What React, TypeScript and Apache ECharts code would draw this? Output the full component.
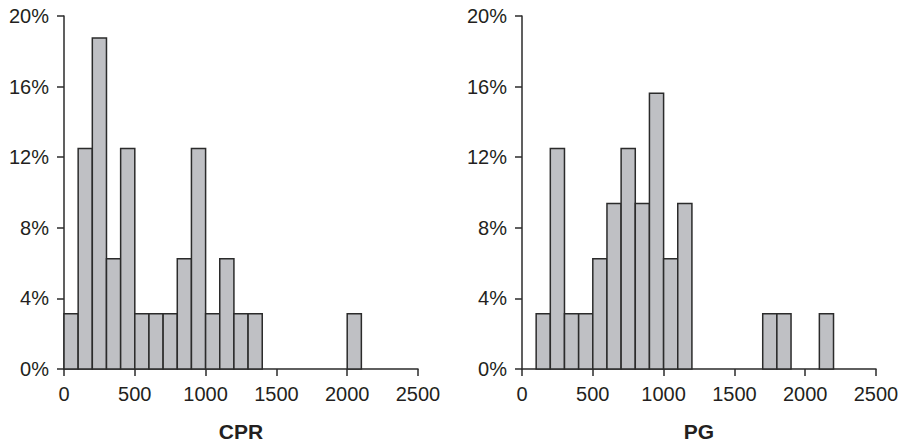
import React, { useEffect, useRef } from "react";
import * as echarts from "echarts";

const binStarts = [0, 100, 200, 300, 400, 500, 600, 700, 800, 900, 1000, 1100, 1200, 1300, 1400, 1500, 1600, 1700, 1800, 1900, 2000, 2100, 2200, 2300, 2400];
const binWidth = 100;
const cprPercent = [3.125, 12.5, 18.75, 6.25, 12.5, 3.125, 3.125, 3.125, 6.25, 12.5, 3.125, 6.25, 3.125, 3.125, 0, 0, 0, 0, 0, 0, 3.125, 0, 0, 0, 0];
const pgPercent = [0, 3.125, 12.5, 3.125, 3.125, 6.25, 9.375, 12.5, 9.375, 15.625, 6.25, 9.375, 0, 0, 0, 0, 0, 3.125, 3.125, 0, 0, 3.125, 0, 0, 0];
const panelNames = ["CPR", "PG"];
const xTicks = { min: 0, max: 2500, interval: 500 };
const yTicks = { min: 0, max: 20, interval: 4 };

const TEXT = "#231f20";
const LINE = "#2b2b2b";
const FONT = "'Liberation Sans', Arial, Helvetica, sans-serif";

export default function App() {
  const ref = useRef<HTMLDivElement>(null);
  useEffect(() => {
    if (!ref.current) return;
    const chart = echarts.init(ref.current, null, { renderer: "svg" });
    const grids = [
      { left: 64, right: 487, top: 16, bottom: 77 },
      { left: 522, right: 29, top: 16, bottom: 77 },
    ];
    const mkX = (i: number) => ({
      type: "value",
      gridIndex: i,
      min: xTicks.min,
      max: xTicks.max,
      interval: xTicks.interval,
      name: panelNames[i],
      nameLocation: "middle",
      nameGap: 52,
      nameTextStyle: { color: TEXT, fontSize: 21, fontWeight: "bold", fontFamily: FONT },
      axisLine: { show: true, lineStyle: { color: LINE, width: 1.5 } },
      axisTick: { show: true, length: 7, lineStyle: { color: LINE, width: 1.5 } },
      axisLabel: { color: TEXT, fontSize: 20, fontFamily: FONT, margin: 15, formatter: (v: number) => String(v) },
      splitLine: { show: false },
    });
    const mkY = (i: number) => ({
      type: "value",
      gridIndex: i,
      min: yTicks.min,
      max: yTicks.max,
      interval: yTicks.interval,
      axisLine: { show: true, lineStyle: { color: LINE, width: 1.5 } },
      axisTick: { show: true, length: 7, lineStyle: { color: LINE, width: 1.5 } },
      axisLabel: { color: TEXT, fontSize: 20, fontFamily: FONT, margin: 15, formatter: (v: number) => v + "%" },
      splitLine: { show: false },
    });
    const mkData = (vals: number[]) =>
      binStarts.map((s, k) => [s, s + binWidth, vals[k]]).filter((d) => d[2] > 0);
    const renderItem = (params: any, api: any) => {
      const p0 = api.coord([api.value(0), api.value(2)]);
      const p1 = api.coord([api.value(1), 0]);
      return {
        type: "rect",
        shape: { x: p0[0], y: p0[1], width: p1[0] - p0[0], height: p1[1] - p0[1] },
        style: { fill: "#bfc0c4", stroke: "#2b2b2b", lineWidth: 1.5 },
      };
    };
    const series = [cprPercent, pgPercent].map((vals, i) => ({
      type: "custom",
      xAxisIndex: i,
      yAxisIndex: i,
      renderItem,
      encode: { x: [0, 1], y: 2 },
      data: mkData(vals),
      z: 1,
    }));
    chart.setOption({
      animation: false,
      backgroundColor: "#ffffff",
      grid: grids,
      xAxis: [mkX(0), mkX(1)],
      yAxis: [mkY(0), mkY(1)],
      series,
    });
    return () => chart.dispose();
  }, []);
  return (
    <div
      ref={ref}
      style={{ position: "fixed", left: 0, top: 0, width: 905, height: 447 }}
    />
  );
}
